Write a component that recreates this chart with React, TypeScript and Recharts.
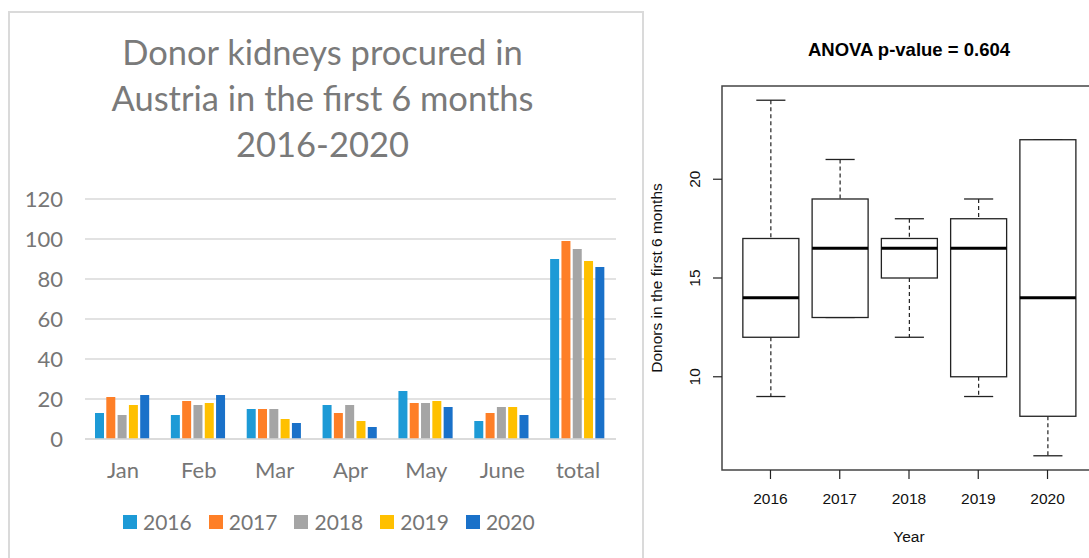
import React from 'react';
import { BarChart, Bar, XAxis, YAxis, CartesianGrid, Legend, ComposedChart, ReferenceArea } from 'recharts';

const months = ['Jan', 'Feb', 'Mar', 'Apr', 'May', 'June', 'total'];
const y2016 = [13, 12, 15, 17, 24, 9, 90];
const y2017 = [21, 19, 15, 13, 18, 13, 99];
const y2018 = [12, 17, 15, 17, 18, 16, 95];
const y2019 = [17, 18, 10, 9, 19, 16, 89];
const y2020 = [22, 22, 8, 6, 16, 12, 86];
const barTicks = [0, 20, 40, 60, 80, 100, 120];

const years = ['2016', '2017', '2018', '2019', '2020'];
const yearColors = ['#1d9ad6', '#fe7f27', '#a5a5a5', '#ffc000', '#1a71c9'];

// boxplot stats of the monthly counts per year
const boxLow = [9, 13, 12, 9, 6];
const boxQ1 = [12, 13, 15, 10, 8];
const boxMedian = [14, 16.5, 16.5, 16.5, 14];
const boxQ3 = [17, 19, 17, 18, 22];
const boxHigh = [24, 21, 18, 19, 22];
const boxTicks = [10, 15, 20];
const boxPositions = [1, 2, 3, 4, 5];

const XL_FONT = 'Lato, "Open Sans", sans-serif';
const R_FONT = '"Liberation Sans", Arial, sans-serif';
const XL_GREY = '#767676';

const barData = months.map((m, i) => ({
  month: m,
  '2016': y2016[i],
  '2017': y2017[i],
  '2018': y2018[i],
  '2019': y2019[i],
  '2020': y2020[i],
}));

const boxData = years.map((yr, i) => ({
  pos: boxPositions[i],
  year: yr,
  whisk: [boxLow[i], boxHigh[i]],
  q1: boxQ1[i],
  med: boxMedian[i],
  q3: boxQ3[i],
}));

const BoxShape = (props: any) => {
  const { x, y, width, height, payload } = props;
  const [lo, hi] = payload.whisk;
  const top = Math.min(y, y + height);
  const h = Math.abs(height);
  const k = h / (hi - lo);
  const py = (v: number) => top + (hi - v) * k;
  const cx = x + width / 2;
  const cap = width * 0.26;
  const col = '#222';
  return (
    <g>
      <line x1={cx} x2={cx} y1={py(hi)} y2={py(payload.q3)} stroke={col} strokeWidth={1.2} strokeDasharray="4 3" />
      <line x1={cx} x2={cx} y1={py(payload.q1)} y2={py(lo)} stroke={col} strokeWidth={1.2} strokeDasharray="4 3" />
      <line x1={cx - cap} x2={cx + cap} y1={py(hi)} y2={py(hi)} stroke={col} strokeWidth={1.3} />
      <line x1={cx - cap} x2={cx + cap} y1={py(lo)} y2={py(lo)} stroke={col} strokeWidth={1.3} />
      <rect x={x} y={py(payload.q3)} width={width} height={py(payload.q1) - py(payload.q3)} fill="#fff" stroke={col} strokeWidth={1.3} />
      <line x1={x} x2={x + width} y1={py(payload.med)} y2={py(payload.med)} stroke="#000" strokeWidth={3} />
    </g>
  );
};

const RotTick = (props: any) => {
  const { x, y, payload } = props;
  return (
    <text x={x} y={y} dy="0.35em" textAnchor="middle" transform={`rotate(-90, ${x}, ${y})`}
      fontFamily={R_FONT} fontSize={15.5} fill="#111">
      {payload.value}
    </text>
  );
};

const YLabel = (props: any) => {
  const { viewBox } = props;
  const lx = viewBox.x + 13;
  const ly = viewBox.y + viewBox.height / 2;
  return (
    <text x={lx} y={ly} dy="0.35em" textAnchor="middle" transform={`rotate(-90, ${lx}, ${ly})`}
      fontFamily={R_FONT} fontSize={15.5} fill="#111">
      Donors in the first 6 months
    </text>
  );
};

const renderLegend = () => (
  <div style={{ display: 'flex', alignItems: 'center', fontFamily: XL_FONT, fontSize: 21, color: XL_GREY, whiteSpace: 'nowrap' }}>
    {years.map((yr, i) => (
      <div key={yr} style={{ display: 'flex', alignItems: 'center', marginRight: i < years.length - 1 ? 17 : 0 }}>
        <span style={{ width: 14, height: 14, background: yearColors[i], marginRight: 6, display: 'inline-block' }} />
        {yr}
      </div>
    ))}
  </div>
);

export default function App() {
  return (
    <div style={{ position: 'fixed', left: 0, top: 0, width: 1089, height: 558, overflow: 'hidden', background: '#fff' }}>
      <div style={{ position: 'absolute', left: 8, top: 11, width: 636, height: 600, boxSizing: 'border-box', border: '2px solid #dadada' }} />
      <div style={{ position: 'absolute', left: 0, top: 0 }}>
        <BarChart width={640} height={558} data={barData} margin={{ top: 199, right: 24, bottom: 0, left: 0 }}
          barCategoryGap={10} barGap={2.3}>
          <CartesianGrid vertical={false} stroke="#d9d9d9" strokeWidth={1.5} />
          <XAxis dataKey="month" height={119} tickLine={false} tickSize={0} tickMargin={23}
            axisLine={{ stroke: '#d9d9d9', strokeWidth: 1.5 }}
            tick={{ fontFamily: XL_FONT, fontSize: 22, fill: XL_GREY }} />
          <YAxis width={85} domain={[0, 120]} ticks={barTicks} tickLine={false} axisLine={false}
            tickSize={0} tickMargin={22} tick={{ fontFamily: XL_FONT, fontSize: 22, fill: XL_GREY }} />
          <Legend verticalAlign="middle" align="center" content={renderLegend}
            wrapperStyle={{ left: 123, top: 509, width: 'auto' }} />
          {years.map((yr, i) => (
            <Bar key={yr} dataKey={yr} fill={yearColors[i]} isAnimationActive={false} />
          ))}
        </BarChart>
      </div>
      <div style={{ position: 'absolute', left: 0, top: 29, width: 645, textAlign: 'center', fontFamily: XL_FONT, fontSize: 34.5, lineHeight: '46px', color: '#7a7a7a' }}>
        Donor kidneys procured in<br />Austria in the first 6 months<br />2016-2020
      </div>

      <div style={{ position: 'absolute', left: 644, top: 0 }}>
        <ComposedChart width={460} height={558} data={boxData} margin={{ top: 86, right: 8, bottom: 0, left: 0 }}>
          <XAxis type="number" dataKey="pos" domain={[0.3, 5.7]} allowDataOverflow ticks={boxPositions}
            tickFormatter={(v: number) => years[v - 1]} height={88} tickSize={9} tickMargin={14}
            axisLine={false} tickLine={{ stroke: '#222', strokeWidth: 1.2 }}
            tick={{ fontFamily: R_FONT, fontSize: 15.5, fill: '#111' }}
            label={{ value: 'Year', position: 'insideBottom', offset: 16, fontFamily: R_FONT, fontSize: 15.5, fill: '#111' }} />
          <YAxis type="number" domain={[5.28, 24.72]} allowDataOverflow ticks={boxTicks} width={78}
            tickSize={9} tickMargin={18} axisLine={false} tickLine={{ stroke: '#222', strokeWidth: 1.2 }}
            tick={<RotTick />} label={<YLabel />} />
          <ReferenceArea x1={0.3} x2={5.7} y1={5.28} y2={24.72} fill="none" fillOpacity={0} stroke="#444" strokeWidth={1.5} />
          <Bar dataKey="whisk" barSize={56} shape={<BoxShape />} isAnimationActive={false} />
        </ComposedChart>
      </div>
      <div style={{ position: 'absolute', left: 709, top: 39, width: 400, textAlign: 'center', fontFamily: R_FONT, fontWeight: 'bold', fontSize: 18.5, color: '#000' }}>
        ANOVA p-value = 0.604
      </div>
    </div>
  );
}
